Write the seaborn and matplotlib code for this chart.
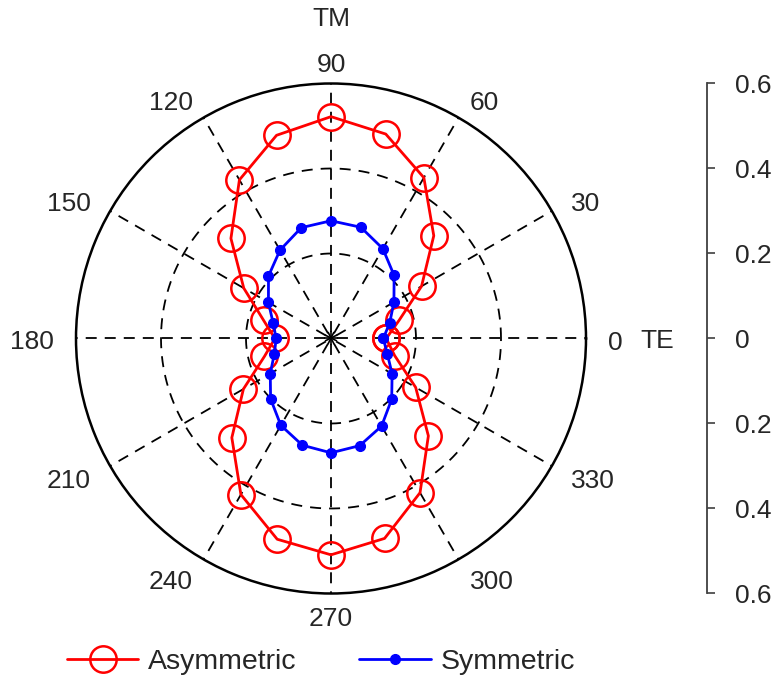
import numpy as np
import pandas as pd
import matplotlib
matplotlib.use("Agg")
import matplotlib.pyplot as plt
import seaborn as sns

# ---------------- data ----------------
angles_deg = [0, 15, 30, 45, 60, 75, 90, 105, 120, 135, 150, 165,
              180, 195, 210, 225, 240, 255, 270, 285, 300, 315, 330, 345]
asymmetric = [0.130, 0.166, 0.246, 0.342, 0.437, 0.498, 0.522, 0.495, 0.431, 0.333, 0.237, 0.164,
              0.132, 0.162, 0.238, 0.330, 0.424, 0.489, 0.509, 0.487, 0.419, 0.324, 0.230, 0.155]
symmetric = [0.123, 0.143, 0.171, 0.210, 0.244, 0.271, 0.277, 0.270, 0.240, 0.208, 0.170, 0.141,
             0.129, 0.138, 0.165, 0.201, 0.236, 0.260, 0.269, 0.261, 0.238, 0.202, 0.166, 0.137]
theta_ticks = [0, 30, 60, 90, 120, 150, 180, 210, 240, 270, 300, 330]
theta_labels = [str(t) for t in theta_ticks]
r_grid = [0.2, 0.4]
r_max = 0.6
scale_ticks = [-0.6, -0.4, -0.2, 0.0, 0.2, 0.4, 0.6]
scale_labels = ["0.6", "0.4", "0.2", "0", "0.2", "0.4", "0.6"]
series_names = ["Asymmetric", "Symmetric"]

# ---------------- style ----------------
sns.set_theme(style="white")
plt.rcParams["font.family"] = ["Liberation Sans", "DejaVu Sans"]
plt.rcParams["lines.scale_dashes"] = False
TXT = "#262626"
FS = 19

W, H = 778, 692
fig = plt.figure(figsize=(W / 100, H / 100), dpi=100)
fig.patch.set_facecolor("white")

cx, cy, R = 331, 338.5, 255
ax = fig.add_axes([(cx - R) / W, (H - cy - R) / H, 2 * R / W, 2 * R / H], projection="polar")
ax.set_facecolor("white")

DASH = (7.9, 5.8)

# spokes drawn from the centre outwards (leaves a small hole at the centre)
for t in theta_ticks:
    th = np.deg2rad(t)
    ax.plot([th, th], [0, r_max], color="black", linewidth=1.3,
            linestyle=(9.4, DASH), zorder=1)
# dashed circles
circ = np.linspace(0, 2 * np.pi, 400)
for rg in r_grid:
    ax.plot(circ, np.full_like(circ, rg), color="black", linewidth=1.3,
            linestyle=(0, DASH), zorder=1)

# close the loops
df = pd.DataFrame({
    "theta": np.deg2rad(angles_deg + [360]),
    "asym": asymmetric + [asymmetric[0]],
    "sym": symmetric + [symmetric[0]],
})

sns.lineplot(data=df, x="theta", y="asym", ax=ax, sort=False, estimator=None,
             color="#FF0000", linewidth=2.0, marker="o", markersize=19,
             markerfacecolor="none", markeredgecolor="#FF0000", markeredgewidth=1.8,
             label=series_names[0], zorder=3)
sns.lineplot(data=df, x="theta", y="sym", ax=ax, sort=False, estimator=None,
             color="#0000FF", linewidth=2.0, marker="o", markersize=7,
             markerfacecolor="#0000FF", markeredgecolor="#0000FF", markeredgewidth=1.0,
             label=series_names[1], zorder=4)
if ax.get_legend() is not None:
    ax.get_legend().remove()

ax.set_ylim(0, r_max)
ax.set_rticks(r_grid)
ax.set_yticklabels([])
ax.set_xticks(np.deg2rad(theta_ticks))
ax.set_xticklabels([])
ax.set_xlabel("")
ax.set_ylabel("")
ax.grid(False)
ax.spines["polar"].set_color("black")
ax.spines["polar"].set_linewidth(1.8)
ax.tick_params(axis="x", bottom=True, direction="in", length=5, width=1.2, color="black")
ax.tick_params(axis="y", left=False, right=False)

# angle labels placed just outside the circle
rho = 277
for t, lab in zip(theta_ticks, theta_labels):
    th = np.deg2rad(t)
    c, s = np.cos(th), np.sin(th)
    x = cx + rho * c
    y = cy - rho * s + 4
    if abs(c) < 1e-6:
        ha = "center"
    elif c > 0:
        ha = "left"
    else:
        ha = "right"
    fig.text(x / W, 1 - y / H, lab, ha=ha, va="center", fontsize=FS, color=TXT)

fig.text(331 / W, 1 - 19 / H, "TM", ha="center", va="center", fontsize=FS, color=TXT)
fig.text(657 / W, 1 - 341 / H, "TE", ha="center", va="center", fontsize=FS, color=TXT)

# ---------------- radial scale on the right ----------------
ax2 = fig.add_axes([707 / W - 0.01, (H - 593.3) / H, 0.01, 510 / H])
ax2.set_ylim(-r_max, r_max)
ax2.set_yticks(scale_ticks)
ax2.set_yticklabels(scale_labels)
ax2.set_xticks([])
ax2.patch.set_visible(False)
for sp in ["left", "top", "bottom"]:
    ax2.spines[sp].set_visible(False)
ax2.spines["right"].set_visible(True)
ax2.spines["right"].set_color("#404040")
ax2.spines["right"].set_linewidth(1.3)
ax2.yaxis.tick_right()
ax2.tick_params(axis="y", right=True, left=False, direction="out", length=5.8, width=1.2,
                color="#404040", pad=14, labelsize=FS, labelcolor=TXT)

# ---------------- legend ----------------
handles, labels = ax.get_legend_handles_labels()
fig.legend(handles, labels, loc="center", bbox_to_anchor=(321 / W, 1 - 662 / H), ncol=2,
           frameon=False, fontsize=20.5, handlelength=2.5, handletextpad=0.35,
           columnspacing=2.2, labelcolor=TXT)

fig.savefig("out.png", dpi=100, facecolor="white")
